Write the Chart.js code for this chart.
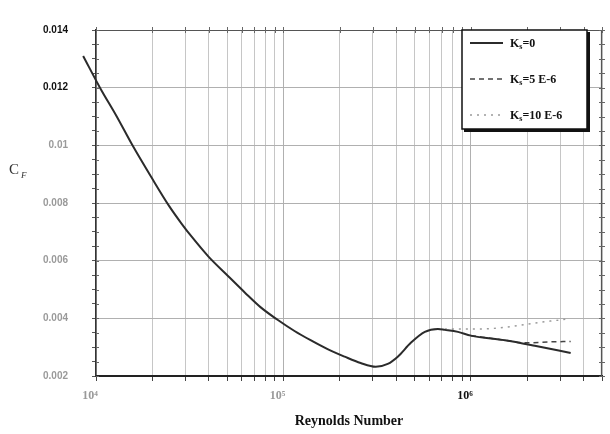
<!DOCTYPE html>
<html><head><meta charset="utf-8">
<script src="https://cdn.jsdelivr.net/npm/chart.js@4.4.1/dist/chart.umd.min.js"></script>
<style>html,body{margin:0;padding:0;background:#fff;}canvas{display:block;}</style>
</head><body>
<canvas id="c" width="610" height="434"></canvas>
<script>
// ---- data ----
const reKs0  = [8540, 10500, 12900, 15650, 19710, 24520, 28710, 32390, 39810, 50740, 62330, 75660, 92990, 114500, 139500, 171900, 212000, 258000, 310500, 359800, 407000, 477700, 567500, 666000, 726000, 852000, 1000000, 1517000, 2190000, 3403000];
const cfKs0  = [0.0131, 0.0120, 0.0110, 0.0100, 0.0089, 0.0079, 0.00727, 0.00683, 0.00614, 0.00546, 0.00489, 0.00438, 0.00395, 0.00356, 0.00324, 0.00293, 0.00267, 0.00245, 0.00232, 0.00242, 0.00267, 0.00315, 0.00353, 0.00363, 0.00360, 0.00353, 0.00340, 0.00324, 0.00305, 0.00280];
const reKs5  = [1000000, 1517000, 1940000, 2568000, 3403000];
const cfKs5  = [0.00340, 0.00324, 0.00315, 0.00318, 0.00320];
const reKs10 = [666000, 1130000, 1517000, 2270000, 3320000];
const cfKs10 = [0.00363, 0.00363, 0.00369, 0.00385, 0.00398];
const seriesLabelRest = ['=0', '=5 E-6', '=10 E-6'];   // shown after "K" with subscript "s"
const xMajorTicks = [1e4, 1e5, 1e6];
const xTickLabels = ['10\u2074', '10\u2075', '10\u2076'];
const yMajorTicks = [0.002, 0.004, 0.006, 0.008, 0.010, 0.012, 0.014];
const yTickLabels = ['0.002', '0.004', '0.006', '0.008', '0.01', '0.012', '0.014'];
const xTitle = 'Reynolds Number';
const xMax = 5e6;

const toXY = (xs, ys) => xs.map((x, i) => ({x: x, y: ys[i]}));
const isMajor = (arr, v) => arr.some(m => Math.abs(m - v) / m < 1e-6);

// minor tick positions
const xAllTicks = [];
xMajorTicks.forEach(d => { for (let k = 1; k <= 9; k++) { const v = d * k; if (v <= xMax * 1.0001) xAllTicks.push(v); } });
const yAllTicks = [];
for (let i = 0; i <= 24; i++) yAllTicks.push(+(0.002 + i * 0.0005).toFixed(5));

const frame = {
  id: 'frame',
  afterDraw(chart) {
    const ctx = chart.ctx, a = chart.chartArea, xs = chart.scales.x, ys = chart.scales.y;
    ctx.save();
    ctx.strokeStyle = '#555'; ctx.lineWidth = 1.2;
    ctx.beginPath(); ctx.moveTo(a.left, a.top + 0.5); ctx.lineTo(a.right, a.top + 0.5);
    ctx.moveTo(a.right - 0.5, a.top); ctx.lineTo(a.right - 0.5, a.bottom); ctx.stroke();
    ctx.lineWidth = 1; ctx.strokeStyle = '#666';
    ctx.beginPath();
    xAllTicks.forEach(v => { const p = Math.round(xs.getPixelForValue(v)) + 0.5; ctx.moveTo(p, a.top - 3); ctx.lineTo(p, a.top + 3); });
    yAllTicks.forEach(v => { const p = Math.round(ys.getPixelForValue(v)) + 0.5; ctx.moveTo(a.right - 3, p); ctx.lineTo(a.right + 3, p);
                               ctx.moveTo(a.left, p); ctx.lineTo(a.left + 3, p); });
    ctx.stroke();
    // y axis title C_F
    ctx.fillStyle = '#333';
    ctx.font = '15px "Liberation Serif"';
    ctx.textBaseline = 'alphabetic';
    ctx.fillText('C', 9, 174);
    ctx.font = 'italic 9px "Liberation Serif"';
    ctx.fillText('F', 21, 178);
    ctx.restore();
  }
};

const legendBox = {
  id: 'legendBox',
  afterDraw(chart) {
    const ctx = chart.ctx;
    const x0 = 462, y0 = 30, w = 125, h = 99;
    ctx.save();
    ctx.fillStyle = '#fff'; ctx.fillRect(x0, y0, w, h);
    ctx.fillStyle = '#111';
    ctx.fillRect(x0 + w, y0 + 2, 3, h + 1);
    ctx.fillRect(x0 + 2, y0 + h, w + 1, 3);
    ctx.strokeStyle = '#111'; ctx.lineWidth = 1.5; ctx.strokeRect(x0, y0, w, h);
    chart.data.datasets.forEach((ds, i) => {
      const y = y0 + 13 + i * 36;
      ctx.strokeStyle = ds.borderColor; ctx.lineWidth = ds.borderWidth;
      ctx.setLineDash(ds.borderDash || []);
      ctx.beginPath(); ctx.moveTo(x0 + 8, y); ctx.lineTo(x0 + 41, y); ctx.stroke();
      ctx.setLineDash([]);
      ctx.fillStyle = '#111'; ctx.textBaseline = 'alphabetic';
      let tx = x0 + 48; const base = y + 4;
      ctx.font = 'bold 12px "Liberation Serif"';
      ctx.fillText('K', tx, base); tx += ctx.measureText('K').width;
      ctx.font = 'bold 8px "Liberation Serif"';
      ctx.fillText('s', tx, base + 2); tx += ctx.measureText('s').width;
      ctx.font = 'bold 12px "Liberation Serif"';
      ctx.fillText(seriesLabelRest[i], tx, base);
    });
    ctx.restore();
  }
};

new Chart(document.getElementById('c'), {
  type: 'line',
  data: {
    datasets: [
      { label: 'Ks' + seriesLabelRest[0], data: toXY(reKs0, cfKs0), borderColor: '#2b2b2b', borderWidth: 2, pointRadius: 0, cubicInterpolationMode: 'monotone', clip: false, fill: false },
      { label: 'Ks' + seriesLabelRest[1], data: toXY(reKs5, cfKs5), borderColor: '#444', borderWidth: 1.5, borderDash: [5, 4], pointRadius: 0, cubicInterpolationMode: 'monotone', fill: false },
      { label: 'Ks' + seriesLabelRest[2], data: toXY(reKs10, cfKs10), borderColor: '#9a9a9a', borderWidth: 1.5, borderDash: [2, 5], pointRadius: 0, cubicInterpolationMode: 'monotone', fill: false }
    ]
  },
  options: {
    responsive: false, animation: false, devicePixelRatio: 1,
    layout: { padding: { top: 15, right: 5, left: 0, bottom: 0 } },
    plugins: { legend: { display: false }, tooltip: { enabled: false } },
    scales: {
      x: {
        type: 'logarithmic', min: 1e4, max: xMax,
        afterBuildTicks: s => { s.ticks = xAllTicks.map(v => ({ value: v })); },
        afterFit: s => { s.height = 58; },
        border: { color: '#222', width: 2 },
        grid: {
          color: c => (c.tick && isMajor(xMajorTicks, c.tick.value)) ? '#b0b0b0' : '#c6c6c6',
          tickColor: '#444', tickLength: 5, lineWidth: 1
        },
        ticks: {
          autoSkip: false, maxRotation: 0, padding: 8, labelOffset: -6,
          callback: v => { const i = xMajorTicks.findIndex(m => Math.abs(m - v) / m < 1e-6); return i >= 0 ? xTickLabels[i] : ''; },
          color: c => (c.tick && Math.abs(c.tick.value - 1e6) < 1) ? '#111' : '#9a9a9a',
          font: { family: '"Liberation Serif"', size: 12, weight: 'bold' }
        },
        title: { display: true, text: xTitle, color: '#111', padding: { top: 0, bottom: 4 },
                 font: { family: '"Liberation Serif"', size: 14, weight: 'bold' } }
      },
      y: {
        type: 'linear', min: 0.002, max: 0.014,
        afterBuildTicks: s => { s.ticks = yAllTicks.map(v => ({ value: v })); },
        afterFit: s => { s.width = 96; },
        border: { color: '#333', width: 1.5 },
        grid: {
          color: c => (c.tick && isMajor(yMajorTicks, c.tick.value)) ? '#b0b0b0' : 'rgba(0,0,0,0)',
          tickColor: '#555', tickLength: 4, lineWidth: 1
        },
        ticks: {
          autoSkip: false, padding: 24,
          callback: v => { const i = yMajorTicks.findIndex(m => Math.abs(m - v) / m < 1e-6); return i >= 0 ? yTickLabels[i] : ''; },
          color: c => (c.tick && c.tick.value > 0.0115) ? '#111' : '#9a9a9a',
          font: { family: '"Liberation Sans"', size: 10, weight: 'bold' }
        }
      }
    }
  },
  plugins: [frame, legendBox]
});
</script>
</body></html>
